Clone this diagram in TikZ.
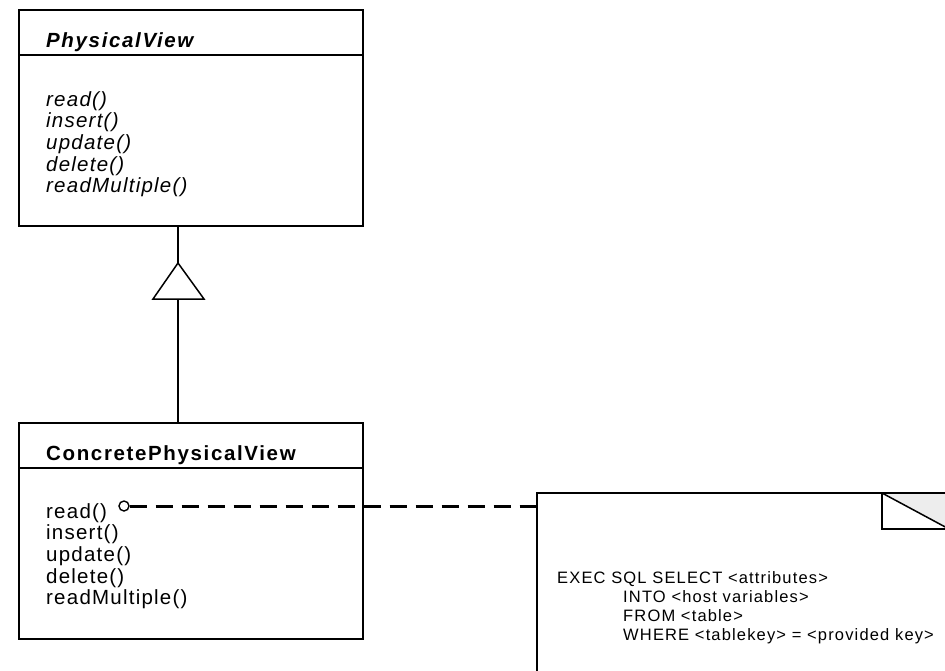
\documentclass[tikz,border=0pt]{standalone}
\usepackage{fontspec}
\setmainfont{Liberation Sans}
\newfontfamily\opfont[LetterSpace=6]{Liberation Sans}
\newfontfamily\namefont[LetterSpace=8]{Liberation Sans}
\newfontfamily\sqlfont[LetterSpace=7]{Liberation Sans}

\tikzset{
  classbox/.style={draw, line width=1.5pt, minimum width=344pt, anchor=north west, inner sep=0pt},
  classname/.style={anchor=base west, inner sep=0pt, font=\namefont\fontsize{20.5}{22}\selectfont\bfseries},
  oper/.style={anchor=base west, inner sep=0pt, font=\opfont\fontsize{20.5}{22}\selectfont},
  notetext/.style={anchor=base west, inner sep=0pt, font=\sqlfont\fontsize{16.5}{19}\selectfont},
  link/.style={line width=1.5pt},
  anchorline/.style={line width=3pt, dash pattern=on 17pt off 9pt},
}

\begin{document}
\begin{tikzpicture}[x=1pt, y=-1pt]
  \clip (0,0) rectangle (945,670);
  \fill[white] (0,0) rectangle (945,670);

  % abstract class
  \node[classbox, minimum height=216pt] (pv) at (18,9) {};
  \draw[line width=1.5pt] (18,55) -- (362,55);
  \node[classname, font=\namefont\fontsize{20.5}{22}\selectfont\bfseries\itshape] (pvname) at (46,47) {PhysicalView};
  \foreach \op [count=\i] in {read(), insert(), update(), delete(), readMultiple()}
    \node[oper, font=\opfont\fontsize{20.5}{22}\selectfont\itshape] (pvop\i) at (46, 84.3+21.7*\i) {\op};

  % concrete class
  \node[classbox, minimum height=216pt] (cpv) at (18,422) {};
  \draw[line width=1.5pt] (18,468) -- (362,468);
  \node[classname] (cpvname) at (46,460) {ConcretePhysicalView};
  \foreach \op [count=\i] in {read(), insert(), update(), delete(), readMultiple()}
    \node[oper] (cpvop\i) at (46, 496.3+21.7*\i) {\op};

  % generalization
  \coordinate (tip) at (178,263);
  \coordinate (tbase) at (178,299);
  \draw[link, line join=miter] (tip) -- (153,299) -- (204,299) -- cycle;
  \draw[link] (tip |- pv.south) -- (tip);
  \draw[link] (tbase) -- (tbase |- cpv.north);

  % note
  \coordinate (noteNW) at (537,493);
  \draw[line width=1.5pt] (960,493) -- (noteNW) -- (537,700);
  \fill[black!7] (882,493) -- (949,493) -- (949,529) -- cycle;
  \draw[line width=1.5pt] (882,493) rectangle (949,529);
  \draw[line width=1.5pt] (882,493) -- (949,529);
  \node[notetext] (sql1) at (557,583) {EXEC SQL SELECT <attributes>};
  \node[notetext] (sql2) at (623,602) {INTO <host variables>};
  \node[notetext] (sql3) at (623,621) {FROM <table>};
  \node[notetext] (sql4) at (623,640) {WHERE <tablekey> = <provided key>};

  % note anchor
  \node[draw, circle, line width=1.4pt, minimum size=10pt, inner sep=0pt] (ring) at (124,506) {};
  \draw[anchorline] (ring.east) -- (ring.east -| noteNW);
\end{tikzpicture}
\end{document}
